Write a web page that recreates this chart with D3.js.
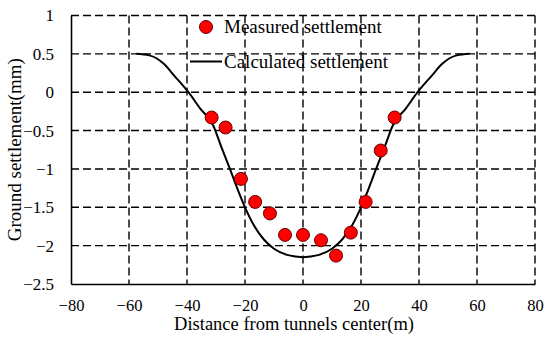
<!DOCTYPE html>
<html>
<head>
<meta charset="utf-8">
<script src="https://cdn.jsdelivr.net/npm/d3@7"></script>
<style>
  body { margin: 0; background: #fff; }
  svg { display: block; }
  svg text { font-family: "Liberation Serif", "Times New Roman", serif; }
</style>
</head>
<body>
<div id="chart"></div>
<script>
// measured points (distance m, settlement mm)
const measuredX = [-31.5, -26.7, -21.4, -16.5, -11.4, -6.2, 0, 6.2, 11.4, 16.5, 21.6, 26.8, 31.6];
const measuredY = [-0.33, -0.46, -1.13, -1.43, -1.58, -1.86, -1.86, -1.93, -2.13, -1.83, -1.43, -0.76, -0.33];

// calculated curve
const calcX = [-57.5, -53, -48, -44.5, -39.5, -35.5, -31, -28, -25, -22.5, -20, -17, -13.5, -10, -5.5, 0,
  5.5, 10, 13.5, 17, 20, 22.5, 25, 28, 31, 35.5, 39.5, 44.5, 48, 53, 57.5];
const calcY = [0.5, 0.48, 0.37, 0.22, 0, -0.21, -0.43, -0.73, -1.02, -1.27, -1.5, -1.73, -1.92, -2.04, -2.12, -2.15,
  -2.12, -2.04, -1.92, -1.73, -1.5, -1.27, -1.02, -0.73, -0.43, -0.21, 0, 0.22, 0.37, 0.48, 0.5];

const xTicks = [-80, -60, -40, -20, 0, 20, 40, 60, 80];
const yTicks = [1, 0.5, 0, -0.5, -1, -1.5, -2, -2.5];

const legendLabels = ["Measured settlement", "Calculated settlement"];

const width = 550, height = 338;
const margin = { left: 71, right: 15, top: 15.5, bottom: 54 };
const serif = "'Liberation Serif', 'Times New Roman', serif";

const svg = d3.select("#chart").append("svg")
  .attr("width", width)
  .attr("height", height);

const x = d3.scaleLinear().domain([-80, 80]).range([margin.left, width - margin.right]);
const y = d3.scaleLinear().domain([-2.5, 1]).range([height - margin.bottom, margin.top]);

const fmt = d => (d < 0 ? "\u2212" : "") + Math.abs(d);

// grid
svg.append("g")
  .selectAll("line")
  .data(xTicks.filter(d => d != -80))
  .join("line")
  .attr("x1", d => x(d)).attr("x2", d => x(d))
  .attr("y1", y(1)).attr("y2", y(-2.5))
  .attr("stroke", "#000")
  .attr("stroke-width", 1.4)
  .attr("stroke-dasharray", "8,4");

svg.append("g")
  .selectAll("line")
  .data(yTicks.filter(d => d != -2.5))
  .join("line")
  .attr("x1", x(-80)).attr("x2", x(80))
  .attr("y1", d => y(d)).attr("y2", d => y(d))
  .attr("stroke", "#000")
  .attr("stroke-width", 1.4)
  .attr("stroke-dasharray", "8,4");

// axes
const xAxis = svg.append("g")
  .attr("transform", `translate(0,${y(-2.5)})`)
  .call(d3.axisBottom(x).tickValues(xTicks).tickFormat(fmt).tickSize(0).tickPadding(15))
  .attr("font-family", serif);
xAxis.select(".domain").attr("stroke-width", 1.6);
xAxis.selectAll("text").attr("fill", "#000")
  .style("font-family", serif).style("font-size", "16.5px");

const yAxis = svg.append("g")
  .attr("transform", `translate(${x(-80)},0)`)
  .call(d3.axisLeft(y).tickValues(yTicks).tickFormat(fmt).tickSize(0).tickPadding(17))
  .attr("font-family", serif);
yAxis.select(".domain").attr("stroke-width", 1.6);
yAxis.selectAll("text").attr("fill", "#000")
  .style("font-family", serif).style("font-size", "17px");

// calculated line
const pts = calcX.map((d, i) => [d, calcY[i]]);
svg.append("path")
  .datum(pts)
  .attr("fill", "none")
  .attr("stroke", "#000")
  .attr("stroke-width", 2)
  .attr("d", d3.line().x(d => x(d[0])).y(d => y(d[1])).curve(d3.curveMonotoneX));

// measured points
svg.append("g")
  .selectAll("circle")
  .data(measuredX.map((d, i) => [d, measuredY[i]]))
  .join("circle")
  .attr("cx", d => x(d[0]))
  .attr("cy", d => y(d[1]))
  .attr("r", 6.5)
  .attr("fill", "#ff0000")
  .attr("stroke", "#600")
  .attr("stroke-width", 1);

// legend
const lg = svg.append("g");
lg.append("circle")
  .attr("cx", 206).attr("cy", 27)
  .attr("r", 6.5)
  .attr("fill", "#ff0000").attr("stroke", "#600").attr("stroke-width", 1);
lg.append("line")
  .attr("x1", 190).attr("x2", 222).attr("y1", 61.5).attr("y2", 61.5)
  .attr("stroke", "#000").attr("stroke-width", 2);
lg.selectAll("text")
  .data(legendLabels)
  .join("text")
  .attr("x", 224)
  .attr("y", (d, i) => 33 + i * 35)
  .attr("font-size", 19)
  .text(d => d);

// axis titles
svg.append("text")
  .attr("x", 294).attr("y", 330)
  .attr("text-anchor", "middle")
  .attr("font-size", 18.5)
  .text("Distance from tunnels center(m)");

svg.append("text")
  .attr("transform", `translate(21,${(y(1) + y(-2.5)) / 2}) rotate(-90)`)
  .attr("text-anchor", "middle")
  .attr("font-size", 19)
  .text("Ground settlement(mm)");
</script>
</body>
</html>
